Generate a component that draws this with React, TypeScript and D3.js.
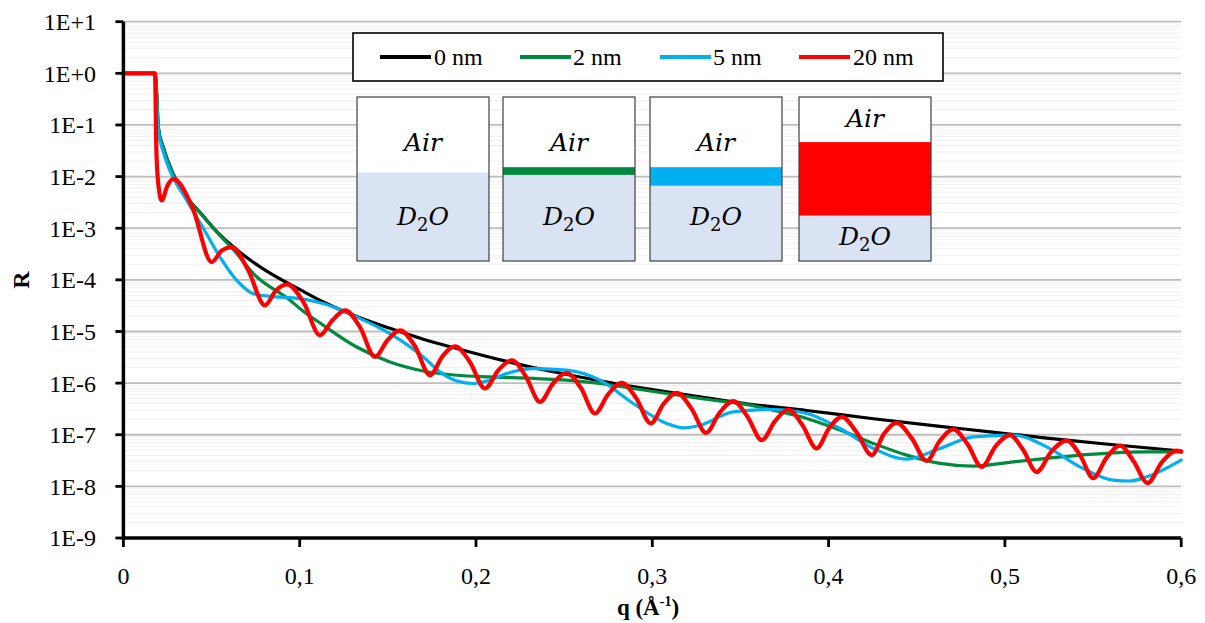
import React from "react";
import * as d3 from "d3";

// ---------- data ----------
const SERIES_NAMES = ["0 nm", "2 nm", "5 nm", "20 nm"];
const SERIES_COLORS = ["#000000", "#008a3e", "#00b0f0", "#ff0000"];

const Q_0NM = [0, 0.0179, 0.0189, 0.0198, 0.0226, 0.0283, 0.0359, 0.0434, 0.0548, 0.0623, 0.0737, 0.0813, 0.1002, 0.1134, 0.1323, 0.1512, 0.1701, 0.1891, 0.2174, 0.2325, 0.2514, 0.2703, 0.289, 0.3082, 0.3271, 0.3554, 0.3876, 0.4254, 0.4632, 0.4916, 0.5237, 0.5615, 0.6];
const R_0NM = [1, 1, 0.4, 9.0e-2, 3.7e-2, 1.12e-2, 4.0e-3, 2.04e-3, 7.4e-4, 4.37e-4, 2.19e-4, 1.48e-4, 6.46e-5, 3.72e-5, 1.95e-5, 1.15e-5, 7.08e-6, 4.68e-6, 2.63e-6, 2.0e-6, 1.48e-6, 1.11e-6, 8.6e-7, 6.76e-7, 5.41e-7, 3.9e-7, 2.95e-7, 2.04e-7, 1.45e-7, 1.14e-7, 8.6e-8, 6.4e-8, 4.84e-8];

const Q_2NM = [0, 0.0179, 0.0189, 0.0198, 0.0226, 0.0283, 0.0359, 0.0434, 0.0548, 0.0623, 0.0737, 0.0945, 0.1002, 0.1134, 0.1323, 0.1512, 0.1701, 0.1891, 0.208, 0.2325, 0.2514, 0.2703, 0.2892, 0.3082, 0.3271, 0.3554, 0.3686, 0.3876, 0.4065, 0.4254, 0.4443, 0.4632, 0.4821, 0.5048, 0.5237, 0.5426, 0.5615, 0.5804, 0.6];
const R_2NM = [1, 1, 0.4, 9.0e-2, 3.7e-2, 1.12e-2, 4.0e-3, 2.0e-3, 7.2e-4, 3.9e-4, 1.32e-4, 4.02e-5, 2.77e-5, 1.32e-5, 5.0e-6, 2.57e-6, 1.72e-6, 1.42e-6, 1.32e-6, 1.23e-6, 1.14e-6, 9.82e-7, 7.87e-7, 6.3e-7, 5.04e-7, 3.74e-7, 2.99e-7, 2.07e-7, 1.23e-7, 6.79e-8, 4.03e-8, 2.79e-8, 2.47e-8, 2.99e-8, 3.48e-8, 4.03e-8, 4.47e-8, 4.67e-8, 4.67e-8];

const Q_5NM = [0, 0.0179, 0.0189, 0.0198, 0.0226, 0.0264, 0.0359, 0.0453, 0.0548, 0.0643, 0.0737, 0.0832, 0.1002, 0.1134, 0.1323, 0.1512, 0.1701, 0.1796, 0.1891, 0.1985, 0.2079, 0.2174, 0.2325, 0.2514, 0.2703, 0.2892, 0.3082, 0.3176, 0.3271, 0.3459, 0.3686, 0.3876, 0.4065, 0.4254, 0.4443, 0.4632, 0.4821, 0.5048, 0.5237, 0.5426, 0.5615, 0.5709, 0.5804, 0.6];
const R_5NM = [1, 1, 0.3, 8.0e-2, 3.0e-2, 1.3e-2, 3.5e-3, 1.0e-3, 2.76e-4, 9.77e-5, 5.41e-5, 4.8e-5, 4.33e-5, 3.47e-5, 1.91e-5, 9.1e-6, 3.21e-6, 1.65e-6, 1.1e-6, 9.82e-7, 1.14e-6, 1.53e-6, 1.91e-6, 1.78e-6, 1.14e-6, 4.03e-7, 1.65e-7, 1.36e-7, 1.53e-7, 2.77e-7, 3.08e-7, 2.58e-7, 1.32e-7, 5.43e-8, 3.37e-8, 5.43e-8, 9.1e-8, 9.82e-8, 5.83e-8, 2.39e-8, 1.32e-8, 1.27e-8, 1.53e-8, 3.23e-8];

const Q_20NM = [0, 0.0179, 0.0187, 0.0199, 0.0217, 0.025, 0.0283, 0.0392, 0.0501, 0.0558, 0.0614, 0.0708, 0.0803, 0.0866, 0.0928, 0.1022, 0.1115, 0.1186, 0.1257, 0.1342, 0.1427, 0.1498, 0.1569, 0.1654, 0.1739, 0.181, 0.1881, 0.1966, 0.2051, 0.2127, 0.2203, 0.2282, 0.2363, 0.2438, 0.2514, 0.2596, 0.2675, 0.275, 0.2826, 0.2909, 0.2991, 0.3065, 0.3138, 0.3221, 0.3305, 0.3382, 0.3459, 0.354, 0.3621, 0.3696, 0.3771, 0.3852, 0.3932, 0.4003, 0.4074, 0.4159, 0.4244, 0.4315, 0.4386, 0.4471, 0.4556, 0.4632, 0.4707, 0.4788, 0.4868, 0.4948, 0.5029, 0.5104, 0.518, 0.5265, 0.5351, 0.5426, 0.5501, 0.5577, 0.5653, 0.573, 0.5809, 0.5891, 0.5974, 0.6];
const R_20NM = [1, 1, 3.2e-2, 6.7e-3, 3.45e-3, 6.7e-3, 9.06e-3, 2.52e-3, 2.21e-4, 3.72e-4, 4.31e-4, 1.53e-4, 3.21e-5, 6.27e-5, 8.18e-5, 3.67e-5, 8.45e-6, 1.65e-5, 2.57e-5, 1.21e-5, 3.21e-6, 6.76e-6, 1.05e-5, 5.17e-6, 1.42e-6, 3.31e-6, 5.17e-6, 2.54e-6, 7.87e-7, 1.78e-6, 2.77e-6, 1.36e-6, 4.33e-7, 9.95e-7, 1.57e-6, 7.96e-7, 2.58e-7, 6.1e-7, 1.01e-6, 5.11e-7, 1.66e-7, 4.0e-7, 6.46e-7, 3.27e-7, 1.09e-7, 2.67e-7, 4.47e-7, 2.24e-7, 7.87e-8, 1.83e-7, 3.08e-7, 1.53e-7, 5.43e-8, 1.34e-7, 2.22e-7, 1.12e-7, 4.03e-8, 1.05e-7, 1.7e-7, 8.59e-8, 3.13e-8, 7.69e-8, 1.27e-7, 6.58e-8, 2.39e-8, 6.03e-8, 9.82e-8, 5.04e-8, 1.89e-8, 4.82e-8, 7.69e-8, 4.03e-8, 1.45e-8, 3.61e-8, 6.15e-8, 3.08e-8, 1.16e-8, 2.95e-8, 4.92e-8, 4.71e-8];

const X_TICKS = [0, 0.1, 0.2, 0.3, 0.4, 0.5, 0.6];
const X_TICK_LABELS = ["0", "0,1", "0,2", "0,3", "0,4", "0,5", "0,6"];
const Y_TICKS = [10, 1, 1e-1, 1e-2, 1e-3, 1e-4, 1e-5, 1e-6, 1e-7, 1e-8, 1e-9];
const Y_TICK_LABELS = ["1E+1", "1E+0", "1E-1", "1E-2", "1E-3", "1E-4", "1E-5", "1E-6", "1E-7", "1E-8", "1E-9"];

// inset sketches: coloured layer top / bottom as fraction of box height
const INSET_LAYER_TOP = [0.46, 0.428, 0.428, 0.275];
const INSET_LAYER_BOTTOM = [0.46, 0.475, 0.541, 0.723];

// ---------- layout ----------
const W = 1205;
const H = 623;
const X0 = 123.4;
const X1 = 1181.2;
const YTOP = 21.7;
const YBOT = 538;
const FONT = "Liberation Serif, Times New Roman, serif";
const MATHFONT = "DejaVu Serif, serif";

export default function App() {
  const x = d3.scaleLinear().domain([0, 0.6]).range([X0, X1]);
  const y = d3.scaleLog().domain([1e-9, 10]).range([YBOT, YTOP]);

  const series = [
    { q: Q_0NM, r: R_0NM },
    { q: Q_2NM, r: R_2NM },
    { q: Q_5NM, r: R_5NM },
    { q: Q_20NM, r: R_20NM },
  ];
  const widths = [3.2, 3.2, 3.2, 4.2];

  const line = d3
    .line<[number, number]>()
    .x((d) => x(d[0]))
    .y((d) => y(d[1]))
    .curve(d3.curveMonotoneX);

  const minor: number[] = [];
  for (let e = -9; e < 1; e++) {
    for (let k = 2; k <= 9; k++) minor.push(k * Math.pow(10, e));
  }

  const insetX = [357, 503, 650, 799];
  const insetW = 132;
  const insetTop = 97;
  const insetH = 164;

  const legendItems = [
    { x: 380, tx: 434 },
    { x: 520, tx: 573 },
    { x: 660, tx: 713 },
    { x: 799, tx: 853 },
  ];

  return (
    <svg
      width={W}
      height={H}
      style={{ position: "absolute", left: 0, top: 0, background: "#fff" }}
    >
      <rect x={0} y={0} width={W} height={H} fill="#fff" />
      {/* minor gridlines */}
      {minor.map((v, i) => (
        <line key={"m" + i} x1={X0} x2={X1} y1={y(v)} y2={y(v)} stroke="#f0f0f0" strokeWidth={1} />
      ))}
      {/* major gridlines */}
      {Y_TICKS.map((v, i) => (
        <line key={"g" + i} x1={X0} x2={X1} y1={y(v)} y2={y(v)} stroke="#bdbdbd" strokeWidth={1.8} />
      ))}

      {/* series */}
      {series.map((s, i) => (
        <path
          key={"s" + i}
          d={line(s.q.map((q, j) => [q, s.r[j]] as [number, number])) || ""}
          fill="none"
          stroke={SERIES_COLORS[i]}
          strokeWidth={widths[i]}
          strokeLinejoin="round"
          strokeLinecap="round"
        />
      ))}

      {/* axes */}
      <line x1={X0} x2={X0} y1={YTOP} y2={YBOT + 1.5} stroke="#000" strokeWidth={3.5} />
      <line x1={X0 - 1.7} x2={X1} y1={YBOT} y2={YBOT} stroke="#000" strokeWidth={3.5} />
      {Y_TICKS.map((v, i) => (
        <g key={"yt" + i}>
          <line x1={X0 - 8} x2={X0} y1={y(v)} y2={y(v)} stroke="#000" strokeWidth={2.8} />
          <text
            x={96}
            y={y(v)}
            dy="0.35em"
            textAnchor="end"
            style={{ fontFamily: FONT, fontSize: 24 }}
            fill="#000"
          >
            {Y_TICK_LABELS[i]}
          </text>
        </g>
      ))}
      {X_TICKS.map((v, i) => (
        <g key={"xt" + i}>
          <line x1={x(v)} x2={x(v)} y1={YBOT} y2={YBOT + 9} stroke="#000" strokeWidth={2.8} />
          <text
            x={x(v)}
            y={584}
            textAnchor="middle"
            style={{ fontFamily: FONT, fontSize: 24 }}
            fill="#000"
          >
            {X_TICK_LABELS[i]}
          </text>
        </g>
      ))}

      {/* axis titles */}
      <text
        x={648}
        y={615}
        textAnchor="middle"
        style={{ fontFamily: FONT, fontSize: 23, fontWeight: "bold" }}
        fill="#000"
      >
        q (Å<tspan style={{ fontSize: 14 }} dy={-9}>-1</tspan>
        <tspan dy={9}>)</tspan>
      </text>
      <text
        transform={`translate(29, 280) rotate(-90)`}
        textAnchor="middle"
        style={{ fontFamily: FONT, fontSize: 24, fontWeight: "bold" }}
        fill="#000"
      >
        R
      </text>

      {/* legend */}
      <rect x={353} y={33} width={590} height={48} fill="#fff" stroke="#000" strokeWidth={1.6} />
      {legendItems.map((it, i) => (
        <g key={"lg" + i}>
          <line x1={it.x} x2={it.x + 51} y1={57} y2={57} stroke={SERIES_COLORS[i]} strokeWidth={4} />
          <text x={it.tx} y={65} style={{ fontFamily: FONT, fontSize: 24 }} fill="#000">
            {SERIES_NAMES[i]}
          </text>
        </g>
      ))}

      {/* inset sketches */}
      {insetX.map((bx, i) => {
        const lt = insetTop + INSET_LAYER_TOP[i] * insetH;
        const lb = insetTop + INSET_LAYER_BOTTOM[i] * insetH;
        const cx = bx + insetW / 2;
        const airY = i === 3 ? 127 : 151;
        const d2oY = i === 3 ? 245 : 225;
        return (
          <g key={"in" + i}>
            <rect x={bx} y={insetTop} width={insetW} height={insetH} fill="#ffffff" />
            <rect x={bx} y={lb} width={insetW} height={insetTop + insetH - lb} fill="#dae3f3" />
            {i > 0 && (
              <rect x={bx} y={lt} width={insetW} height={lb - lt} fill={SERIES_COLORS[i]} />
            )}
            <rect
              x={bx}
              y={insetTop}
              width={insetW}
              height={insetH}
              fill="none"
              stroke="#404040"
              strokeWidth={1.2}
            />
            <text
              x={cx}
              y={airY}
              textAnchor="middle"
              style={{ fontFamily: MATHFONT, fontStyle: "italic", fontSize: 25 }}
              fill="#000"
            >
              Air
            </text>
            <text
              x={cx}
              y={d2oY}
              textAnchor="middle"
              style={{ fontFamily: MATHFONT, fontStyle: "italic", fontSize: 25 }}
              fill="#000"
            >
              D<tspan style={{ fontSize: 18, fontStyle: "normal" }} dy={6}>2</tspan>
              <tspan dy={-6}>O</tspan>
            </text>
          </g>
        );
      })}
    </svg>
  );
}
